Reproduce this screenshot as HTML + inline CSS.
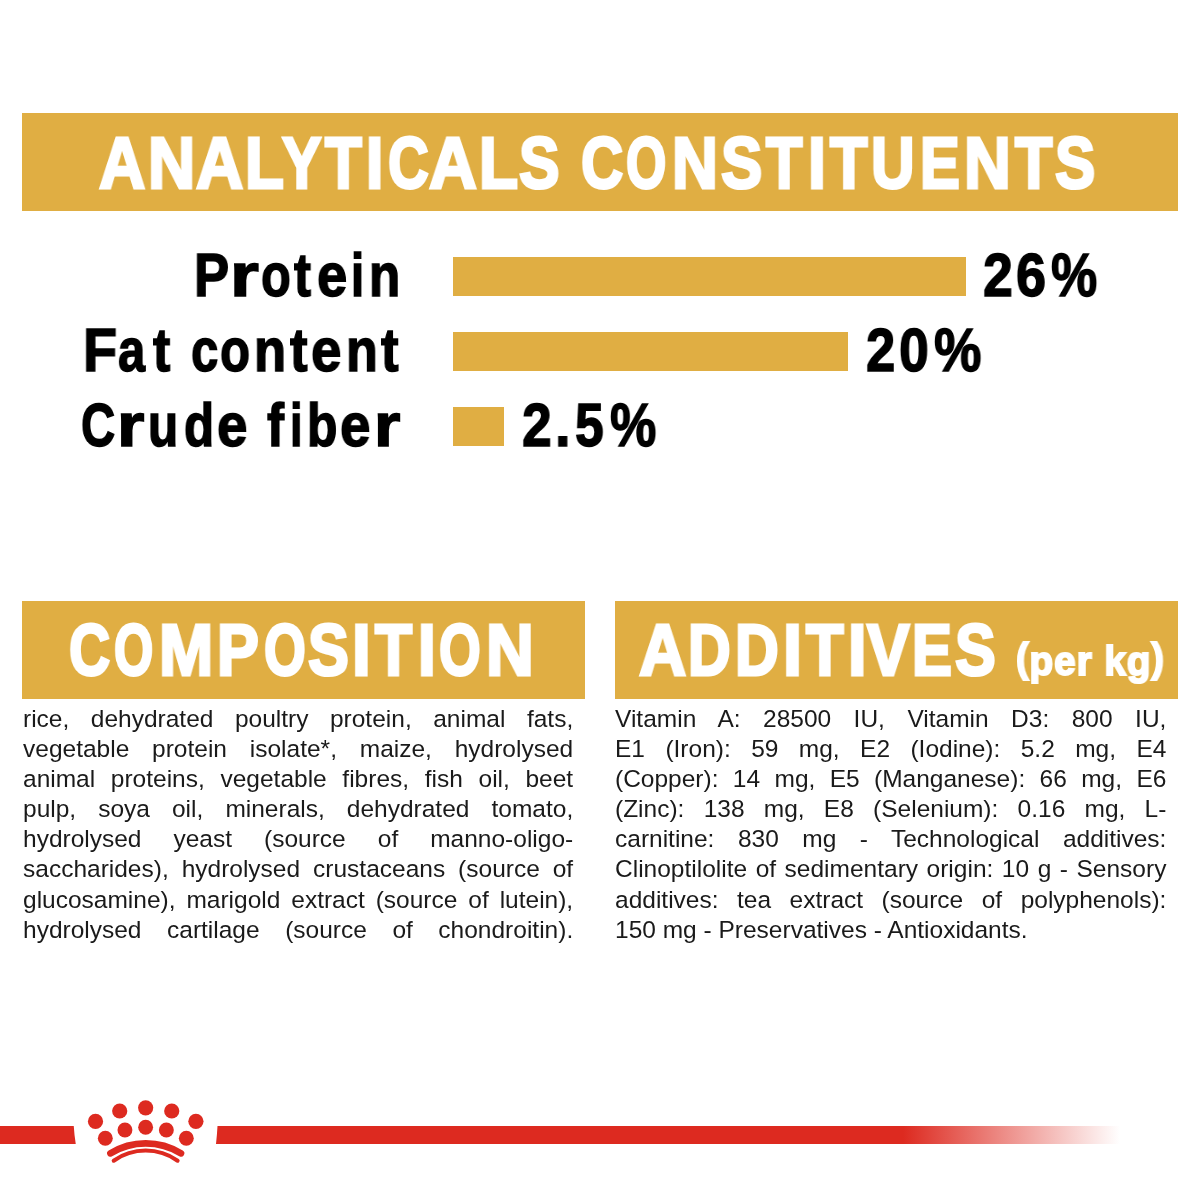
<!DOCTYPE html>
<html lang="en">
<head>
<meta charset="utf-8">
<title>Analytical constituents</title>
<style>
  html, body { margin: 0; padding: 0; background: #ffffff; }
  body { width: 1200px; height: 1200px; position: relative; overflow: hidden;
         font-family: "Liberation Sans", sans-serif; color: #000; }
  .abs { position: absolute; }
  .gold { background: #e0ae43; }
  h1, h2, p { margin: 0; padding: 0; font-weight: normal; }
  .t { position: absolute; display: inline-block; white-space: nowrap; line-height: 1;
       transform-origin: 0 0; font-weight: bold; will-change: transform; }
  .banner { position: absolute; background: #e0ae43; color: #fff; }
  .hd { font-size: 72px; -webkit-text-stroke: 3px #fff; letter-spacing: 0; }
  .hs { font-size: 41px; -webkit-text-stroke: 2px #fff; letter-spacing: 1px; }
  .hs i { font-style: normal; position: relative; top: -3.5px; font-size: 0.975em; }
  .lbl { font-size: 62px; color: #000; -webkit-text-stroke: 1.5px #000; letter-spacing: 0; }
  .bar { position: absolute; background: #e0ae43; height: 39.4px; left: 453px; }
  .body { position: absolute; font-size: 24.5px; line-height: 30.1px; color: #1a1a1a;
          transform-origin: 0 0; will-change: transform; }
  .body span { display: block; text-align: justify; text-align-last: justify; white-space: normal; }
  .body span.last { text-align-last: left; }
</style>
</head>
<body>

<!-- ===== Analytical constituents ===== -->
<h1 class="banner" style="left:22px;top:113px;width:1156px;height:98px;">
  <span class="w"><b class="t hd" id="h1a0" style="left:76.78px;top:14.3px;transform:scaleX(0.8889);">A</b><b class="t hd" id="h1a1" style="left:126.02px;top:14.3px;transform:scaleX(0.9070);">N</b><b class="t hd" id="h1a2" style="left:173.79px;top:14.3px;transform:scaleX(0.9082);">A</b><b class="t hd" id="h1a3" style="left:223.40px;top:14.3px;transform:scaleX(0.8806);">L</b><b class="t hd" id="h1a4" style="left:259.51px;top:14.3px;transform:scaleX(0.8206);">Y</b><b class="t hd" id="h1a5" style="left:302.72px;top:14.3px;transform:scaleX(0.8352);">T</b><b class="t hd" id="h1a6" style="left:343.95px;top:14.3px;transform:scaleX(0.8620);">I</b><b class="t hd" id="h1a7" style="left:366.35px;top:14.3px;transform:scaleX(0.7811);">C</b><b class="t hd" id="h1a8" style="left:407.45px;top:14.3px;transform:scaleX(0.9179);">A</b><b class="t hd" id="h1a9" style="left:456.88px;top:14.3px;transform:scaleX(0.8878);">L</b><b class="t hd" id="h1a10" style="left:497.29px;top:14.3px;transform:scaleX(0.8418);">S</b></span>
  <span class="w"><b class="t hd" id="h1b0" style="left:559.05px;top:14.3px;transform:scaleX(0.8105);">C</b><b class="t hd" id="h1b1" style="left:604.16px;top:14.3px;transform:scaleX(0.7178);">O</b><b class="t hd" id="h1b2" style="left:649.90px;top:14.3px;transform:scaleX(0.8820);">N</b><b class="t hd" id="h1b3" style="left:699.44px;top:14.3px;transform:scaleX(0.8588);">S</b><b class="t hd" id="h1b4" style="left:743.68px;top:14.3px;transform:scaleX(0.8285);">T</b><b class="t hd" id="h1b5" style="left:786.00px;top:14.3px;transform:scaleX(0.8942);">I</b><b class="t hd" id="h1b6" style="left:808.06px;top:14.3px;transform:scaleX(0.8525);">T</b><b class="t hd" id="h1b7" style="left:849.25px;top:14.3px;transform:scaleX(0.8374);">U</b><b class="t hd" id="h1b8" style="left:898.08px;top:14.3px;transform:scaleX(0.8270);">E</b><b class="t hd" id="h1b9" style="left:941.68px;top:14.3px;transform:scaleX(0.8998);">N</b><b class="t hd" id="h1b10" style="left:993.20px;top:14.3px;transform:scaleX(0.8500);">T</b><b class="t hd" id="h1b11" style="left:1033.22px;top:14.3px;transform:scaleX(0.8375);">S</b></span>
</h1>

<span class="w"><b class="t lbl" id="l1_0" style="left:193.76px;top:243.8px;transform:scaleX(0.8517);">P</b><b class="t lbl" id="l1_1" style="left:230.01px;top:243.8px;transform:scaleX(1.1969);">r</b><b class="t lbl" id="l1_2" style="left:260.74px;top:243.8px;transform:scaleX(0.7875);">o</b><b class="t lbl" id="l1_3" style="left:294.39px;top:243.8px;transform:scaleX(0.8245);">t</b><b class="t lbl" id="l1_4" style="left:316.61px;top:243.8px;transform:scaleX(0.8755);">e</b><b class="t lbl" id="l1_5" style="left:351.23px;top:243.8px;transform:scaleX(0.7572);">i</b><b class="t lbl" id="l1_6" style="left:368.65px;top:243.8px;transform:scaleX(0.8232);">n</b></span>
<div class="bar" id="b1" style="top:257px;width:513.2px;"></div>
<span class="w"><b class="t lbl" id="v1_0" style="left:982.61px;top:243.7px;transform:scaleX(0.8631);">2</b><b class="t lbl" id="v1_1" style="left:1015.85px;top:243.7px;transform:scaleX(0.8690);">6</b><b class="t lbl" id="v1_2" style="left:1051.43px;top:243.7px;transform:scaleX(0.8387);">%</b></span>

<span class="w"><b class="t lbl" id="l2a_0" style="left:83.00px;top:319.0px;transform:scaleX(0.9000);">F</b><b class="t lbl" id="l2a_1" style="left:118.18px;top:319.0px;transform:scaleX(0.7913);">a</b><b class="t lbl" id="l2a_2" style="left:152.96px;top:319.0px;transform:scaleX(0.8367);">t</b></span>
<span class="w"><b class="t lbl" id="l2b_0" style="left:190.51px;top:319.0px;transform:scaleX(0.7927);">c</b><b class="t lbl" id="l2b_1" style="left:219.90px;top:319.0px;transform:scaleX(0.7917);">o</b><b class="t lbl" id="l2b_2" style="left:254.17px;top:319.0px;transform:scaleX(0.8459);">n</b><b class="t lbl" id="l2b_3" style="left:290.01px;top:319.0px;transform:scaleX(0.8526);">t</b><b class="t lbl" id="l2b_4" style="left:311.02px;top:319.0px;transform:scaleX(0.8847);">e</b><b class="t lbl" id="l2b_5" style="left:346.19px;top:319.0px;transform:scaleX(0.8391);">n</b><b class="t lbl" id="l2b_6" style="left:380.99px;top:319.0px;transform:scaleX(0.8526);">t</b></span>
<div class="bar" id="b2" style="top:332px;width:395px;"></div>
<span class="w"><b class="t lbl" id="v2_0" style="left:866.05px;top:318.9px;transform:scaleX(0.8491);">2</b><b class="t lbl" id="v2_1" style="left:899.43px;top:318.9px;transform:scaleX(0.8631);">0</b><b class="t lbl" id="v2_2" style="left:933.80px;top:318.9px;transform:scaleX(0.8593);">%</b></span>

<span class="w"><b class="t lbl" id="l3a_0" style="left:81.15px;top:394.0px;transform:scaleX(0.7615);">C</b><b class="t lbl" id="l3a_1" style="left:117.21px;top:394.0px;transform:scaleX(1.1368);">r</b><b class="t lbl" id="l3a_2" style="left:148.19px;top:394.0px;transform:scaleX(0.7997);">u</b><b class="t lbl" id="l3a_3" style="left:183.56px;top:394.0px;transform:scaleX(0.7970);">d</b><b class="t lbl" id="l3a_4" style="left:217.02px;top:394.0px;transform:scaleX(0.8847);">e</b></span>
<span class="w"><b class="t lbl" id="l3b_0" style="left:267.39px;top:394.0px;transform:scaleX(0.8304);">f</b><b class="t lbl" id="l3b_1" style="left:289.53px;top:394.0px;transform:scaleX(0.7277);">i</b><b class="t lbl" id="l3b_2" style="left:307.14px;top:394.0px;transform:scaleX(0.8001);">b</b><b class="t lbl" id="l3b_3" style="left:340.02px;top:394.0px;transform:scaleX(0.8847);">e</b><b class="t lbl" id="l3b_4" style="left:374.49px;top:394.0px;transform:scaleX(1.0947);">r</b></span>
<div class="bar" id="b3" style="top:407px;width:51px;"></div>
<span class="w"><b class="t lbl" id="v3_0" style="left:522.43px;top:393.9px;transform:scaleX(0.8597);">2</b><b class="t lbl" id="v3_1" style="left:555.40px;top:393.9px;transform:scaleX(0.9000);">.</b><b class="t lbl" id="v3_2" style="left:574.53px;top:393.9px;transform:scaleX(0.8318);">5</b><b class="t lbl" id="v3_3" style="left:609.64px;top:393.9px;transform:scaleX(0.8406);">%</b></span>

<!-- ===== Composition ===== -->
<h2 class="banner" style="left:22px;top:601px;width:563px;height:98px;">
  <span class="w"><b class="t hd" id="h2a0" style="left:46.60px;top:13px;transform:scaleX(0.7907);">C</b><b class="t hd" id="h2a1" style="left:92.18px;top:13px;transform:scaleX(0.6992);">O</b><b class="t hd" id="h2a2" style="left:137.27px;top:13px;transform:scaleX(0.9032);">M</b><b class="t hd" id="h2a3" style="left:195.43px;top:13px;transform:scaleX(0.8688);">P</b><b class="t hd" id="h2a4" style="left:241.70px;top:13px;transform:scaleX(0.7463);">O</b><b class="t hd" id="h2a5" style="left:286.00px;top:13px;transform:scaleX(0.8506);">S</b><b class="t hd" id="h2a6" style="left:329.82px;top:13px;transform:scaleX(0.9318);">I</b><b class="t hd" id="h2a7" style="left:353.00px;top:13px;transform:scaleX(0.8416);">T</b><b class="t hd" id="h2a8" style="left:395.56px;top:13px;transform:scaleX(0.8880);">I</b><b class="t hd" id="h2a9" style="left:417.37px;top:13px;transform:scaleX(0.7445);">O</b><b class="t hd" id="h2a10" style="left:463.76px;top:13px;transform:scaleX(0.9176);">N</b></span>
</h2>
<p class="body" id="p1" style="left:22.8px;top:704px;width:550.2px;">
  <span>rice, dehydrated poultry protein, animal fats,</span>
  <span>vegetable protein isolate*, maize, hydrolysed</span>
  <span>animal proteins, vegetable fibres, fish oil, beet</span>
  <span>pulp, soya oil, minerals, dehydrated tomato,</span>
  <span>hydrolysed yeast (source of manno-oligo-</span>
  <span>saccharides), hydrolysed crustaceans (source of</span>
  <span>glucosamine), marigold extract (source of lutein),</span>
  <span>hydrolysed cartilage (source of chondroitin).</span>
</p>

<!-- ===== Additives ===== -->
<h2 class="banner" style="left:615px;top:601px;width:563px;height:98px;">
  <span class="w"><b class="t hd" id="h2b0" style="left:23.77px;top:13px;transform:scaleX(0.9080);">A</b><b class="t hd" id="h2b1" style="left:72.86px;top:13px;transform:scaleX(0.8183);">D</b><b class="t hd" id="h2b2" style="left:120.29px;top:13px;transform:scaleX(0.8396);">D</b><b class="t hd" id="h2b3" style="left:167.77px;top:13px;transform:scaleX(0.9493);">I</b><b class="t hd" id="h2b4" style="left:191.21px;top:13px;transform:scaleX(0.8546);">T</b><b class="t hd" id="h2b5" style="left:233.28px;top:13px;transform:scaleX(0.9208);">I</b><b class="t hd" id="h2b6" style="left:252.46px;top:13px;transform:scaleX(0.8859);">V</b><b class="t hd" id="h2b7" style="left:297.29px;top:13px;transform:scaleX(0.8320);">E</b><b class="t hd" id="h2b8" style="left:340.40px;top:13px;transform:scaleX(0.8461);">S</b></span>
  <span class="t hs" id="h2c" style="left:401.02px;top:39.6px;transform:scaleX(0.9448);"><i>(</i>per kg<i>)</i></span>
</h2>
<p class="body" id="p2" style="left:614.6px;top:704px;width:551.4px;">
  <span>Vitamin A: 28500 IU, Vitamin D3: 800 IU,</span>
  <span>E1 (Iron): 59 mg, E2 (Iodine): 5.2 mg, E4</span>
  <span>(Copper): 14 mg, E5 (Manganese): 66 mg, E6</span>
  <span>(Zinc): 138 mg, E8 (Selenium): 0.16 mg, L-</span>
  <span>carnitine: 830 mg - Technological additives:</span>
  <span>Clinoptilolite of sedimentary origin: 10 g - Sensory</span>
  <span>additives: tea extract (source of polyphenols):</span>
  <span class="last">150 mg - Preservatives - Antioxidants.</span>
</p>

<!-- ===== Footer: red line + crown ===== -->
<svg class="abs" id="footer" style="left:0;top:1085px;" width="1200" height="100" viewBox="0 1085 1200 100">
  <defs>
    <linearGradient id="fade" x1="903" x2="1120" y1="0" y2="0" gradientUnits="userSpaceOnUse">
      <stop offset="0" stop-color="#dd2a20"/>
      <stop offset="1" stop-color="#dd2a20" stop-opacity="0"/>
    </linearGradient>
  </defs>
  <path d="M0 1126.1 H73.75 Q74.3 1135 75.75 1143.9 H0 Z" fill="#dd2a20"/>
  <path d="M217.5 1126.1 H1125 V1143.9 H216 Q217 1135 217.5 1126.1 Z" fill="url(#fade)"/>
  <g fill="#dd2a20">
    <circle cx="95.5" cy="1121.4" r="7.6"/>
    <circle cx="119.7" cy="1111" r="7.6"/>
    <circle cx="145.65" cy="1107.8" r="7.6"/>
    <circle cx="171.75" cy="1111" r="7.6"/>
    <circle cx="195.9" cy="1121.3" r="7.6"/>
    <circle cx="105.3" cy="1138.25" r="7.45"/>
    <circle cx="124.95" cy="1130" r="7.45"/>
    <circle cx="145.65" cy="1127.3" r="7.45"/>
    <circle cx="166.35" cy="1130" r="7.45"/>
    <circle cx="186.3" cy="1138.25" r="7.45"/>
  </g>
  <path d="M110.4 1153.4 A67.3 67.3 0 0 1 181 1153.4" fill="none" stroke="#dd2a20" stroke-width="6.6" stroke-linecap="round"/>
  <path d="M113.7 1160.75 A55.4 55.4 0 0 1 177.6 1160.75" fill="none" stroke="#dd2a20" stroke-width="4" stroke-linecap="round"/>
</svg>

</body>
</html>
